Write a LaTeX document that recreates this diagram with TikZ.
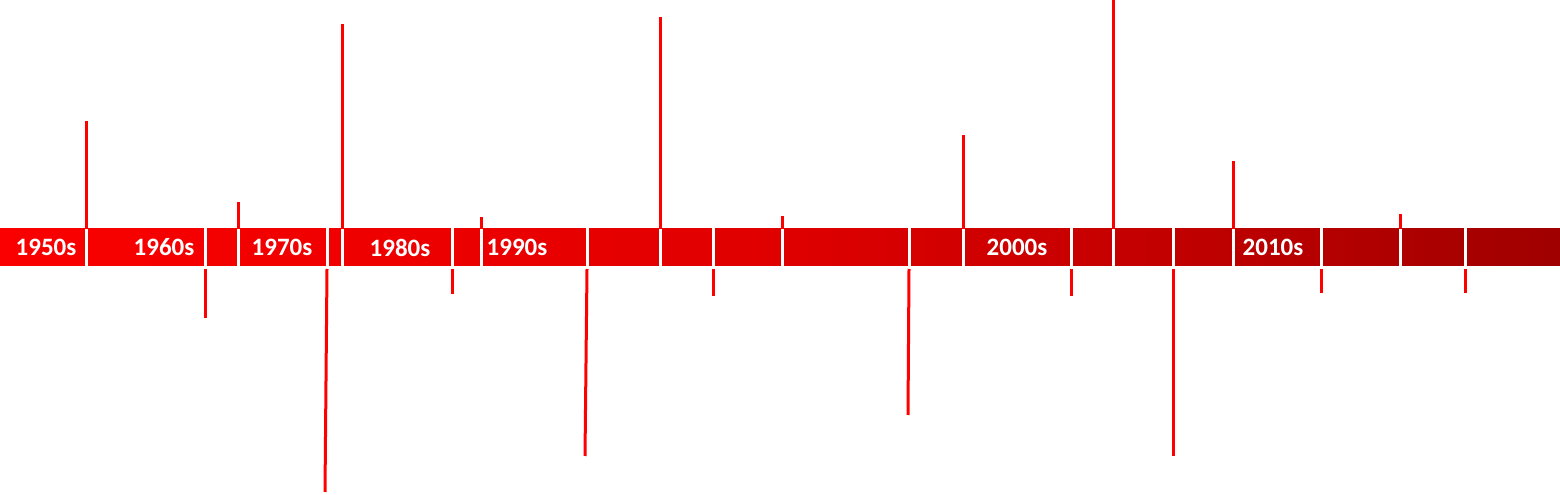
\documentclass[tikz,border=0pt]{standalone}
\usepackage{fontspec}
\setmainfont{Carlito}
\definecolor{tickred}{RGB}{255,0,0}
\pgfdeclarehorizontalshading{barshade}{100bp}{
  rgb(0bp)=(0.98,0,0);
  rgb(25bp)=(0.98,0,0);
  rgb(37.8bp)=(0.933,0,0);
  rgb(50.6bp)=(0.871,0,0);
  rgb(61.9bp)=(0.765,0,0);
  rgb(73.1bp)=(0.647,0,0);
  rgb(75bp)=(0.627,0,0);
  rgb(100bp)=(0.627,0,0)}
\begin{document}
\begin{tikzpicture}[x=1pt,y=1pt,
  bar/.style={rectangle,inner sep=0pt,minimum width=1560pt,minimum height=37pt,shading=barshade,draw=none},
  sep/.style={white,line width=3pt},
  tick/.style={tickred,line width=3pt},
  decade/.style={text=white,font=\fontsize{25}{25}\selectfont\bfseries,inner sep=0pt}]
\useasboundingbox (0,0) rectangle (1560,495);
\node[bar] (bar) at (780,247.5) {};
\foreach \x in {86,205,238,327,342,452,481,587,660,713,782,909,963,1071,1113,1173,1233,1321,1400,1465}
  \draw[sep] (\x,228) -- (\x,267);
% upward ticks
\foreach \i/\xa/\yb in {1/86/374,2/238/293,3/342/471,4/481/278,5/660/478,6/782/279,7/963/360,8/1113/495,9/1233/334,10/1400/281}{
  \coordinate (us\i) at (\xa,266);
  \coordinate (ue\i) at (\xa,\yb);
  \draw[tick] (us\i) -- (ue\i);
}
% downward ticks
\foreach \i/\xa/\xb/\yb in {1/205/205/177,2/327/325/3,3/452/452/201,4/587/585/39,5/713/713/199,6/909/908/80,7/1071/1071/199,8/1173/1173/39,9/1321/1321/202,10/1465/1465/202}{
  \coordinate (ds\i) at (\xa,226);
  \coordinate (de\i) at (\xb,\yb);
  \draw[tick] (ds\i) -- (de\i);
}
\node[decade] (d1950) at (46,247.5) {1950s};
\node[decade] (d1960) at (164,247.5) {1960s};
\node[decade] (d1970) at (282,247.5) {1970s};
\node[decade] (d1980) at (400,247.5) {1980s};
\node[decade] (d1990) at (517,247.5) {1990s};
\node[decade] (d2000) at (1017,247.5) {2000s};
\node[decade] (d2010) at (1273,247.5) {2010s};
\end{tikzpicture}
\end{document}
